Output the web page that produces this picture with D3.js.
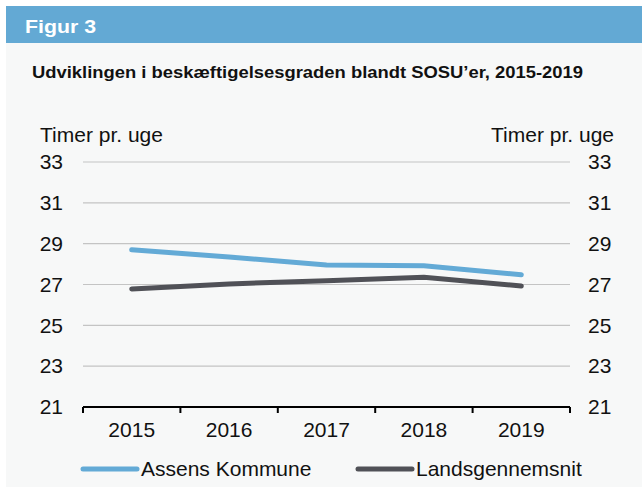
<!DOCTYPE html>
<html>
<head>
<meta charset="utf-8">
<script src="https://cdn.jsdelivr.net/npm/d3@7"></script>
<style>
  body { margin: 0; background: #ffffff; }
  text { font-family: "Liberation Sans", Arial, sans-serif; }
</style>
</head>
<body>
<script>
// Chart data
const years = ["2015", "2016", "2017", "2018", "2019"];
const assens = [28.7, 28.35, 27.95, 27.92, 27.48];
const landsgennemsnit = [26.78, 27.03, 27.18, 27.35, 26.93];
const yTicks = [21, 23, 25, 27, 29, 31, 33];
const seriesNames = ["Assens Kommune", "Landsgennemsnit"];
const colors = ["#63aad6", "#505157"];

const W = 642, H = 490;
const margin = { top: 162, right: 72, bottom: 83, left: 83 };
const width = W - margin.left - margin.right;
const height = H - margin.top - margin.bottom;
const fs = 21;

const svg = d3.select("body").append("svg").attr("width", W).attr("height", H);

// panel + header
svg.append("rect").attr("x", 6).attr("y", 6).attr("width", W - 6).attr("height", 481).attr("fill", "#f7f8f8");
svg.append("rect").attr("x", 6).attr("y", 6).attr("width", W - 6).attr("height", 37).attr("fill", "#63a9d4");
svg.append("text").attr("x", 25).attr("y", 33).attr("fill", "#fff")
  .attr("font-size", 19).attr("font-weight", "bold")
  .attr("textLength", 71).attr("lengthAdjust", "spacingAndGlyphs").text("Figur 3");
svg.append("text").attr("x", 32).attr("y", 78).attr("fill", "#111")
  .attr("font-size", 16).attr("font-weight", "bold")
  .attr("textLength", 551).attr("lengthAdjust", "spacingAndGlyphs")
  .text("Udviklingen i beskæftigelsesgraden blandt SOSU’er, 2015-2019");

const g = svg.append("g").attr("transform", `translate(${margin.left},${margin.top})`);

// scales
const x = d3.scaleBand().domain(years).range([0, width]);
const y = d3.scaleLinear().domain([21, 33]).range([height, 0]);

// gridlines
g.selectAll(".grid").data(yTicks.filter(d => d > 21)).join("line")
  .attr("x1", 0).attr("x2", width)
  .attr("y1", d => y(d)).attr("y2", d => y(d))
  .attr("stroke", "#c4c4c4").attr("stroke-width", 1.2);

// left and right axes (labels only)
const leftAxis = g.append("g").call(d3.axisLeft(y).tickValues(yTicks).tickSize(0).tickPadding(20));
const rightAxis = g.append("g").attr("transform", `translate(${width},0)`)
  .call(d3.axisRight(y).tickValues(yTicks).tickSize(0).tickPadding(18));
[leftAxis, rightAxis].forEach(a => {
  a.select(".domain").remove();
  a.selectAll("text").attr("font-size", fs).attr("fill", "#111")
    .attr("font-family", "Liberation Sans, Arial, sans-serif");
});

// x axis
const xAxis = g.append("g").attr("transform", `translate(0,${height})`)
  .call(d3.axisBottom(x).tickSize(0).tickPadding(15));
xAxis.select(".domain").remove();
xAxis.selectAll("text").attr("font-size", fs).attr("fill", "#111")
  .attr("font-family", "Liberation Sans, Arial, sans-serif");
xAxis.append("line").attr("x1", 0).attr("x2", width).attr("stroke", "#000").attr("stroke-width", 2);
xAxis.selectAll(".xtick").data(d3.range(years.length + 1)).join("line")
  .attr("x1", i => i * x.step()).attr("x2", i => i * x.step())
  .attr("y1", 0).attr("y2", 6).attr("stroke", "#000").attr("stroke-width", 2);

// lines
const line = d3.line().x((d, i) => x(years[i]) + x.bandwidth() / 2).y(d => y(d));
[assens, landsgennemsnit].forEach((s, k) => {
  g.append("path").datum(s).attr("d", line).attr("fill", "none")
    .attr("stroke", colors[k]).attr("stroke-width", 5).attr("stroke-linecap", "round");
});

// axis titles
svg.append("text").attr("x", 40).attr("y", 142).attr("font-size", fs).attr("fill", "#111").text("Timer pr. uge");
svg.append("text").attr("x", 614).attr("y", 142).attr("font-size", fs).attr("fill", "#111")
  .attr("text-anchor", "end").text("Timer pr. uge");

// legend
const legX = [83, 358];
const leg = svg.selectAll(".leg").data(seriesNames).join("g")
  .attr("transform", (d, i) => `translate(${legX[i]},469)`);
leg.append("line").attr("x1", 0).attr("x2", 54).attr("stroke", (d, i) => colors[i])
  .attr("stroke-width", 5).attr("stroke-linecap", "round");
leg.append("text").attr("x", 58).attr("y", 7).attr("font-size", fs).attr("fill", "#111").text(d => d);
</script>
</body>
</html>
